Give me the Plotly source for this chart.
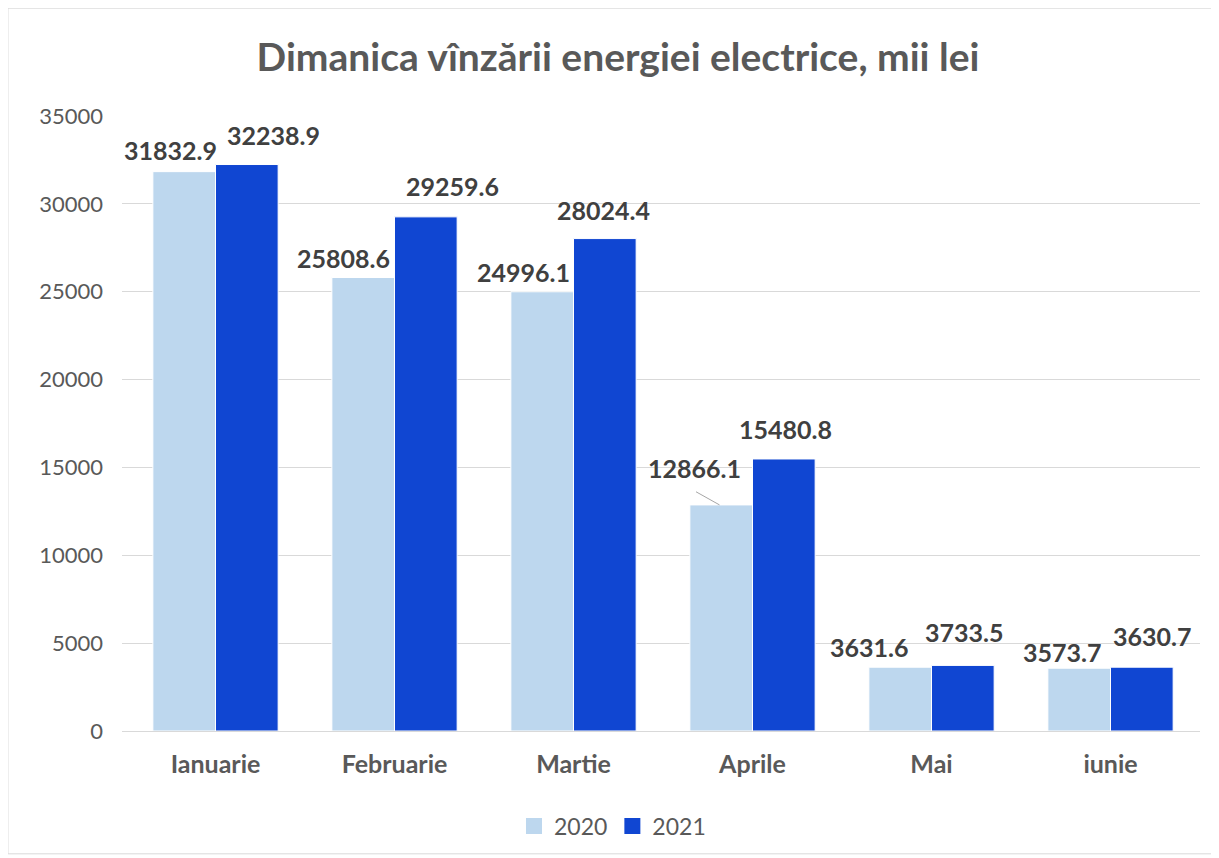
import plotly.graph_objects as go

# data
months = ["Ianuarie", "Februarie", "Martie", "Aprile", "Mai", "iunie"]
sales_2020 = [31832.9, 25808.6, 24996.1, 12866.1, 3631.6, 3573.7]
sales_2021 = [32238.9, 29259.6, 28024.4, 15480.8, 3733.5, 3630.7]
y_ticks = [0, 5000, 10000, 15000, 20000, 25000, 30000, 35000]

# label nudges (px) relative to category centre / bar top, as placed in the original
shift_2020 = [(-45, 22), (-51, 20), (-50, 20), (-58, 37), (-63, 20), (-49, 16)]
shift_2021 = [(58, 30), (58, 31), (30, 29), (33, 30), (32, 33), (41, 31)]

LIGHT = "#BDD7EE"
DARK = "#1046D2"
TEXT = "#404040"
GREY = "#595959"
FONT = "Lato"

fig = go.Figure()
fig.add_trace(go.Bar(x=months, y=sales_2020, name="2020", showlegend=False,
                     marker=dict(color=LIGHT, line=dict(color="white", width=1))))
fig.add_trace(go.Bar(x=months, y=sales_2021, name="2021", showlegend=False,
                     marker=dict(color=DARK, line=dict(color="white", width=1))))

# legend entries with bigger square swatches
for name, col in (("2020", LIGHT), ("2021", DARK)):
    fig.add_trace(go.Scatter(x=[None], y=[None], mode="markers", name=name,
                             marker=dict(symbol="square", size=16, color=col)))

for series, shifts in ((sales_2020, shift_2020), (sales_2021, shift_2021)):
    for m, v, (dx, dy) in zip(months, series, shifts):
        fig.add_annotation(x=m, y=v, text=f"{v:.1f}", showarrow=False,
                           xshift=dx, yshift=dy, yanchor="middle",
                           font=dict(family=FONT, size=25, color=TEXT, weight="bold"))

# leader line for the April 2020 label
fig.add_annotation(x="Aprile", y=sales_2020[3], text="", showarrow=True,
                   arrowhead=0, arrowwidth=1, arrowcolor="#A6A6A6",
                   xshift=-33, ax=-25, ay=-14)

# light chart border
fig.add_shape(type="rect", xref="paper", yref="paper",
              x0=-0.1058, x1=1.0148, y0=-0.1997, y1=1.1753,
              line=dict(color="#D9D9D9", width=1), layer="below")

fig.update_layout(
    width=1211, height=850,
    margin=dict(l=114, r=19, t=108, b=126),
    paper_bgcolor="white", plot_bgcolor="white",
    barmode="group", bargap=0.3, bargroupgap=0,
    title=dict(text="Dimanica vînzării energiei electrice, mii lei",
               x=0.5037, xanchor="center", y=0.9424, yanchor="middle",
               font=dict(family=FONT, size=39, color=GREY, weight="bold")),
    legend=dict(orientation="h", x=0.455, xanchor="center", y=-0.1526, yanchor="middle",
                font=dict(family=FONT, size=23, color=GREY), itemwidth=30),
    xaxis=dict(showgrid=False, showline=True, linecolor="#D9D9D9", linewidth=1,
               ticks="", ticklabelstandoff=11,
               tickfont=dict(family=FONT, size=25, color=GREY, weight="bold")),
    yaxis=dict(range=[0, 35000], tickvals=y_ticks, tickformat="d", showgrid=True,
               gridcolor="#D9D9D9", gridwidth=1, zeroline=False, showline=False,
               ticklabelstandoff=18,
               tickfont=dict(family=FONT, size=22, color=GREY)),
)

fig.write_html("out.html")
